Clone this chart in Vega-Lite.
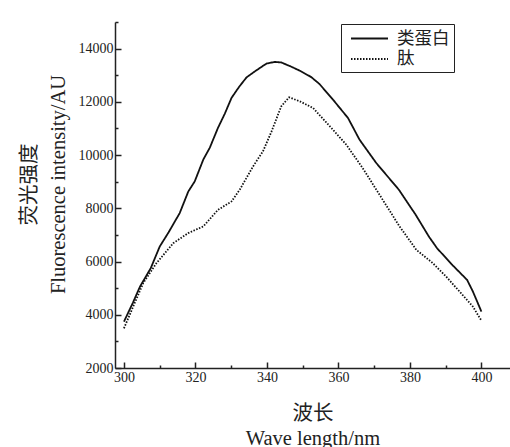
{
  "$schema": "https://vega.github.io/schema/vega-lite/v6.json",
  "width": 395,
  "height": 346,
  "autosize": {"type": "none"},
  "padding": {"left": 115, "top": 22, "right": 0, "bottom": 79},
  "background": "white",
  "config": {
    "view": {"stroke": null},
    "axis": {
      "domainColor": "#222",
      "domainWidth": 1.5,
      "tickColor": "#222",
      "tickWidth": 1.5,
      "grid": false,
      "labelFont": "Liberation Serif",
      "labelFontSize": 14,
      "labelColor": "#222",
      "titleFont": "Liberation Serif, Noto Sans CJK SC",
      "titleFontSize": 20.5,
      "titleFontWeight": "normal",
      "titleColor": "#222"
    }
  },
  "data": {
    "values": [
      {"wl": 300, "v": 3740, "s": "类蛋白"},
      {"wl": 302.5, "v": 4450, "s": "类蛋白"},
      {"wl": 304.5, "v": 5060, "s": "类蛋白"},
      {"wl": 307.5, "v": 5750, "s": "类蛋白"},
      {"wl": 310, "v": 6560, "s": "类蛋白"},
      {"wl": 312.5, "v": 7100, "s": "类蛋白"},
      {"wl": 315.6, "v": 7820, "s": "类蛋白"},
      {"wl": 318, "v": 8630, "s": "类蛋白"},
      {"wl": 319.8, "v": 9010, "s": "类蛋白"},
      {"wl": 322.2, "v": 9830, "s": "类蛋白"},
      {"wl": 324, "v": 10270, "s": "类蛋白"},
      {"wl": 326.3, "v": 11020, "s": "类蛋白"},
      {"wl": 328.2, "v": 11550, "s": "类蛋白"},
      {"wl": 330.1, "v": 12150, "s": "类蛋白"},
      {"wl": 332.2, "v": 12560, "s": "类蛋白"},
      {"wl": 334.3, "v": 12920, "s": "类蛋白"},
      {"wl": 337, "v": 13180, "s": "类蛋白"},
      {"wl": 339.9, "v": 13440, "s": "类蛋白"},
      {"wl": 342.2, "v": 13500, "s": "类蛋白"},
      {"wl": 344, "v": 13480, "s": "类蛋白"},
      {"wl": 346.5, "v": 13340, "s": "类蛋白"},
      {"wl": 349.2, "v": 13170, "s": "类蛋白"},
      {"wl": 352.4, "v": 12930, "s": "类蛋白"},
      {"wl": 354.7, "v": 12670, "s": "类蛋白"},
      {"wl": 358.5, "v": 12080, "s": "类蛋白"},
      {"wl": 362.7, "v": 11390, "s": "类蛋白"},
      {"wl": 365.9, "v": 10580, "s": "类蛋白"},
      {"wl": 370.6, "v": 9700, "s": "类蛋白"},
      {"wl": 376.9, "v": 8700, "s": "类蛋白"},
      {"wl": 381.6, "v": 7760, "s": "类蛋白"},
      {"wl": 385.3, "v": 6940, "s": "类蛋白"},
      {"wl": 387.6, "v": 6500, "s": "类蛋白"},
      {"wl": 391.8, "v": 5880, "s": "类蛋白"},
      {"wl": 396, "v": 5310, "s": "类蛋白"},
      {"wl": 397.6, "v": 4880, "s": "类蛋白"},
      {"wl": 400, "v": 4120, "s": "类蛋白"},
      {"wl": 300, "v": 3490, "s": "肽"},
      {"wl": 302.6, "v": 4310, "s": "肽"},
      {"wl": 305.4, "v": 5190, "s": "肽"},
      {"wl": 309.1, "v": 5940, "s": "肽"},
      {"wl": 313.8, "v": 6690, "s": "肽"},
      {"wl": 318, "v": 7070, "s": "肽"},
      {"wl": 322.2, "v": 7320, "s": "肽"},
      {"wl": 326.3, "v": 7940, "s": "肽"},
      {"wl": 330.1, "v": 8260, "s": "肽"},
      {"wl": 332.4, "v": 8700, "s": "肽"},
      {"wl": 336.1, "v": 9570, "s": "肽"},
      {"wl": 338.9, "v": 10140, "s": "肽"},
      {"wl": 341.3, "v": 10890, "s": "肽"},
      {"wl": 344, "v": 11830, "s": "肽"},
      {"wl": 346.2, "v": 12170, "s": "肽"},
      {"wl": 349.2, "v": 12020, "s": "肽"},
      {"wl": 352.9, "v": 11770, "s": "肽"},
      {"wl": 358.5, "v": 10950, "s": "肽"},
      {"wl": 362.2, "v": 10390, "s": "肽"},
      {"wl": 366.8, "v": 9510, "s": "肽"},
      {"wl": 371.5, "v": 8510, "s": "肽"},
      {"wl": 377.1, "v": 7320, "s": "肽"},
      {"wl": 381.8, "v": 6440, "s": "肽"},
      {"wl": 386.4, "v": 5940, "s": "肽"},
      {"wl": 390.1, "v": 5440, "s": "肽"},
      {"wl": 394.3, "v": 4810, "s": "肽"},
      {"wl": 397.6, "v": 4310, "s": "肽"},
      {"wl": 400, "v": 3780, "s": "肽"}
    ]
  },
  "resolve": {"axis": {"x": "independent", "y": "independent"}},
  "layer": [
    {
      "mark": {"type": "line", "color": "#111", "strokeWidth": 1.8, "clip": true},
      "encoding": {
        "x": {
          "field": "wl",
          "type": "quantitative",
          "scale": {"domain": [297.5, 408], "nice": false, "zero": false},
          "axis": {
            "orient": "bottom",
            "title": ["波长", "Wave length/nm"],
            "titleLineHeight": 25,
            "titlePadding": 19,
            "values": [300, 320, 340, 360, 380, 400],
            "tickSize": -6,
            "labelPadding": 8,
            "labelFlush": false
          }
        },
        "y": {
          "field": "v",
          "type": "quantitative",
          "scale": {"domain": [2000, 15000], "nice": false, "zero": false},
          "axis": {
            "orient": "left",
            "title": ["荧光强度", "Fluorescence intensity/AU"],
            "titleLineHeight": 29,
            "titlePadding": 10,
            "titleY": 162,
            "values": [2000, 4000, 6000, 8000, 10000, 12000, 14000],
            "format": "d",
            "tickSize": -6,
            "labelPadding": 8,
            "labelFlush": false
          }
        },
        "strokeDash": {
          "field": "s",
          "type": "nominal",
          "scale": {"domain": ["类蛋白", "肽"], "range": [[1, 0], [1.5, 1.5]]},
          "legend": {
            "title": null,
            "orient": "none",
            "legendX": 226,
            "legendY": 2,
            "strokeColor": "#222",
            "fillColor": "white",
            "padding": 4,
            "symbolType": "M-2,0H2",
            "symbolSize": 342,
            "symbolOffset": 14,
            "symbolStrokeWidth": 1.8,
            "symbolStrokeColor": "#111",
            "labelFont": "Liberation Sans, Noto Sans CJK SC",
            "labelFontSize": 17.5,
            "labelColor": "#222",
            "labelOffset": 17,
            "rowPadding": 1.5
          }
        }
      }
    },
    {
      "mark": {"type": "line", "opacity": 0},
      "encoding": {
        "x": {
          "field": "wl",
          "type": "quantitative",
          "axis": {
            "orient": "bottom",
            "title": null,
            "labels": false,
            "domain": false,
            "values": [310, 330, 350, 370, 390],
            "tickSize": -3
          }
        },
        "y": {
          "field": "v",
          "type": "quantitative",
          "axis": {
            "orient": "left",
            "title": null,
            "labels": false,
            "domain": false,
            "values": [3000, 5000, 7000, 9000, 11000, 13000, 15000],
            "tickSize": -3
          }
        },
        "detail": {"field": "s"}
      }
    }
  ]
}
